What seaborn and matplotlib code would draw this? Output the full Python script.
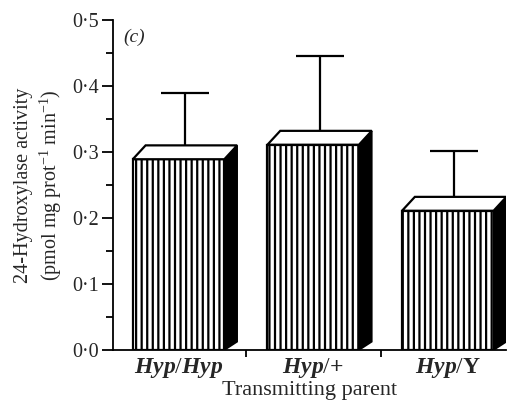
import matplotlib
matplotlib.use("Agg")
import matplotlib.pyplot as plt
import seaborn as sns
import pandas as pd
from matplotlib.patches import Polygon
from matplotlib.ticker import MultipleLocator, FixedLocator

categories = ["Hyp/Hyp", "Hyp/+", "Hyp/Y"]
tick_labels = [r"$\mathit{Hyp/Hyp}$", r"$\mathit{Hyp/}{\mathbf{+}}$", r"$\mathit{Hyp}/\mathbf{Y}$"]
activity = [0.289, 0.311, 0.211]
error_top = [0.389, 0.445, 0.302]
y_ticks = [0.0, 0.1, 0.2, 0.3, 0.4, 0.5]
y_tick_labels = ["0\u00b70", "0\u00b71", "0\u00b72", "0\u00b73", "0\u00b74", "0\u00b75"]

sns.set_theme(style="ticks")
plt.rcParams["font.family"] = ["Liberation Serif", "DejaVu Serif"]
plt.rcParams["mathtext.fontset"] = "custom"
plt.rcParams["mathtext.rm"] = "Liberation Serif"
plt.rcParams["mathtext.it"] = "Liberation Serif:italic:bold"
plt.rcParams["mathtext.bf"] = "Liberation Serif:bold"
plt.rcParams["hatch.linewidth"] = 1.6
plt.rcParams["hatch.color"] = "black"

df = pd.DataFrame({"parent": categories, "activity": activity})

fig = plt.figure(figsize=(5.10, 4.07), dpi=100)
ax = fig.add_axes([0.2216, 0.140, 0.77, 0.811])

sns.barplot(data=df, x="parent", y="activity", color="white", edgecolor="black",
            linewidth=1.6, width=0.68, errorbar=None, ax=ax, zorder=2)

dx, dy = 0.095, 0.021
for p, val, top in zip(ax.patches, activity, error_top):
    p.set_hatch("|||")
    p.set_facecolor("white")
    p.set_edgecolor("black")
    x0 = p.get_x(); w = p.get_width(); h = p.get_height()
    side = Polygon([(x0 + w, 0), (x0 + w, h), (x0 + w + dx, h + dy), (x0 + w + dx, dy * 0.6)],
                   closed=True, facecolor="black", edgecolor="black", lw=1.2, zorder=3)
    ax.add_patch(side)
    cx = x0 + w / 2 + dx / 2
    base = h + dy / 2
    ax.errorbar([cx], [base], yerr=[[0], [top - base]], fmt="none", ecolor="black",
                elinewidth=1.6, capsize=17, capthick=1.6, zorder=2.5)
    topface = Polygon([(x0, h), (x0 + w, h), (x0 + w + dx, h + dy), (x0 + dx, h + dy)],
                      closed=True, facecolor="white", edgecolor="black", lw=1.6, zorder=4)
    ax.add_patch(topface)

ax.set_ylim(0, 0.5)
ax.set_xlim(-0.487, 2.43)
ax.yaxis.set_minor_locator(MultipleLocator(0.05))
ax.set_yticks(y_ticks)
ax.set_yticklabels(y_tick_labels, fontsize=14.5)
ax.set_xticks([0, 1, 2])
ax.set_xticklabels(tick_labels, fontsize=17)
ax.tick_params(axis="x", length=0, pad=4)
ax.xaxis.set_minor_locator(FixedLocator([0.5, 1.5]))
ax.tick_params(axis="x", which="minor", length=5, width=1.3, color="black")
ax.tick_params(axis="y", which="major", length=8, width=1.3, color="black", pad=2)
ax.tick_params(axis="y", which="minor", length=5, width=1.3, color="black")
for s in ["top", "right"]:
    ax.spines[s].set_visible(False)
for s in ["left", "bottom"]:
    ax.spines[s].set_linewidth(1.3)
    ax.spines[s].set_color("black")

ax.set_xlabel("Transmitting parent", fontsize=16, labelpad=1)
ax.set_ylabel("24-Hydroxylase activity\n(pmol mg prot$^{-1}$ min$^{-1}$)", fontsize=14.5,
              linespacing=1.25, labelpad=6)
ax.text(0.025, 0.975, "(c)", transform=ax.transAxes, fontsize=14, fontstyle="italic",
        va="top", ha="left")

fig.savefig("out.png", dpi=100)
